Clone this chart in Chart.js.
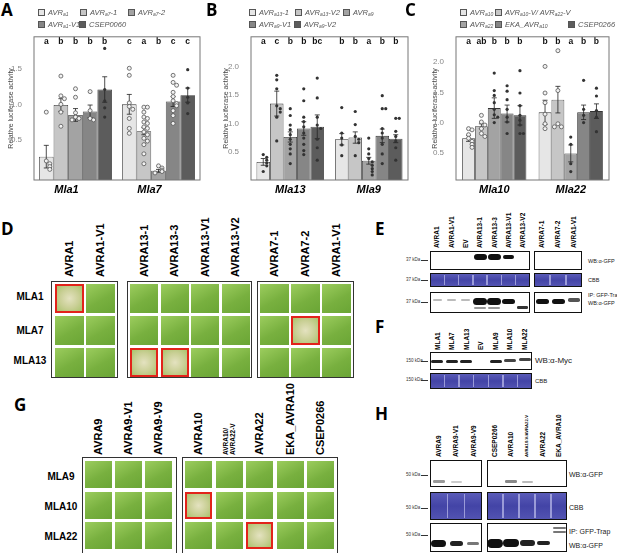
<!DOCTYPE html>
<html>
<head>
<meta charset="utf-8">
<script src="https://cdn.jsdelivr.net/npm/chart.js@4.4.1/dist/chart.umd.min.js"></script>
<style>
body { margin: 0; width: 617px; height: 553px; position: relative; overflow: hidden; background: #fff; font-family: "Liberation Sans", Arial, sans-serif; }
.abs { position: absolute; }
.letter { font-family: "Open Sans", sans-serif; font-weight: 700; font-size: 17px; line-height: 17px; }
.leg { font-style: italic; font-size: 7.5px; color: #555; line-height: 9px; }
.leg span.sq { display: inline-block; width: 5px; height: 5px; border: 0.8px solid #555; margin-right: 3px; vertical-align: -1px; }
.leg sub { font-size: 5px; vertical-align: -1px; }
canvas { position: absolute; }
</style>
</head>
<body>
<canvas id="chartA" width="205" height="172" style="left:0;top:28px"></canvas>
<canvas id="chartB" width="205" height="172" style="left:205px;top:28px"></canvas>
<canvas id="chartC" width="207" height="172" style="left:410px;top:28px"></canvas>
<script>
var yTitle = 'Relative luciferase activity';
var grays = ['#e6e6e6', '#c6c6c6', '#a3a3a3', '#868686', '#5c5c5c'];

// panel A
var groupsA = ['Mla1', 'Mla7'];
var seriesA = [['AVR', 'a1', ''], ['AVR', 'a7', '-1'], ['AVR', 'a7', '-2'], ['AVR', 'a1', '-V1'], ['CSEP0060', '', '']];
var meanA = [[0.26, 1.00], [0.99, 0.62], [0.85, 0.06], [0.90, 1.04], [1.21, 1.13]];
var semA = [[0.16, 0.14], [0.09, 0.05], [0.09, 0.02], [0.09, 0.07], [0.18, 0.10]];
var lettersA = [['a', 'c'], ['b', 'a'], ['b', 'b'], ['b', 'c'], ['b', 'c']];
var pointsA = [
  [[0.89, 0.20, 0.16, 0.12, 0.08], [1.51, 1.41, 1.02, 0.97, 0.93, 0.80, 0.66, 0.59]],
  [[1.40, 1.12, 1.08, 1.00, 0.89, 0.69], [0.96, 0.96, 0.89, 0.82, 0.80, 0.75, 0.73, 0.68, 0.66, 0.61, 0.57, 0.52, 0.48, 0.43, 0.30, 0.16]],
  [[1.22, 1.10, 0.88, 0.82, 0.80, 0.78], [0.13, 0.10, 0.07, 0.05, 0.03]],
  [[1.18, 0.91, 0.80, 0.78], [1.41, 1.31, 1.27, 1.17, 1.11, 1.05, 1.01, 0.98, 0.91, 0.84, 0.73]],
  [[1.79, 1.21, 1.05, 0.95, 0.82], [1.49, 1.23, 1.10, 1.02, 0.87]]
];
var ticksA = [0.5, 1.0, 1.5];

// panel B
var groupsB = ['Mla13', 'Mla9'];
var seriesB = [['AVR', 'a13', '-1'], ['AVR', 'a13', '-V2'], ['AVR', 'a9', ''], ['AVR', 'a9', '-V1'], ['AVR', 'a9', '-V2']];
var meanB = [[0.32, 0.72], [1.35, 0.75], [0.76, 0.34], [0.91, 0.78], [0.94, 0.73]];
var semB = [[0.06, 0.10], [0.22, 0.10], [0.09, 0.06], [0.12, 0.12], [0.21, 0.07]];
var lettersB = [['a', 'b'], ['c', 'b'], ['b', 'a'], ['b', 'b'], ['bc', 'b']];
var pointsB = [
  [[0.45, 0.40, 0.35, 0.30, 0.25, 0.15], [1.28, 0.83, 0.74, 0.62, 0.43]],
  [[1.85, 1.77, 1.61, 1.31, 1.26, 1.20, 1.11, 0.69], [1.21, 0.98, 0.77, 0.72, 0.66, 0.43]],
  [[1.26, 1.14, 0.97, 0.89, 0.80, 0.72, 0.63, 0.55, 0.46, 0.29], [0.74, 0.55, 0.46, 0.38, 0.32, 0.26, 0.20, 0.15, 0.09]],
  [[1.61, 1.40, 1.11, 1.03, 0.94, 0.83, 0.74, 0.63, 0.52, 0.45], [1.49, 1.26, 1.26, 0.91, 0.83, 0.74, 0.63, 0.46, 0.29]],
  [[1.80, 1.45, 1.11, 0.97, 0.91, 0.72, 0.57, 0.35], [1.09, 1.09, 0.86, 0.77, 0.69, 0.57, 0.35]]
];
var ticksB = [0.5, 1.0, 1.5, 2.0];

// panel C
var groupsC = ['Mla10', 'Mla22'];
var seriesC = [['AVR', 'a10', ''], ['AVR', 'a10', '-V/ AVR<sub>a22</sub>-V'], ['AVR', 'a22', ''], ['EKA_AVR', 'a10', ''], ['CSEP0266', '', '']];
var meanC = [[0.74, 1.17], [0.94, 1.38], [1.24, 0.49], [1.15, 1.17], [1.12, 1.19]];
var semC = [[0.05, 0.20], [0.04, 0.22], [0.17, 0.14], [0.14, 0.12], [0.16, 0.12]];
var lettersC = [['a', 'b'], ['ab', 'b'], ['b', 'a'], ['b', 'b'], ['b', 'b']];
var pointsC = [
  [[0.90, 0.88, 0.80, 0.74, 0.69, 0.64, 0.59], [1.93, 1.49, 1.33, 1.14, 0.98, 0.90]],
  [[1.12, 1.01, 0.96, 0.90, 0.82, 0.77], [2.19, 1.53, 0.98, 0.93, 0.93]],
  [[1.82, 1.53, 1.45, 1.33, 1.22, 1.13, 1.09, 1.00], [0.76, 0.64, 0.32, 0.19]],
  [[1.61, 1.52, 1.38, 1.22, 1.09, 1.01, 0.82], [1.70, 1.22, 1.12, 1.00]],
  [[1.86, 1.49, 1.28, 1.12, 1.04, 0.96, 0.82, 0.82], [1.57, 1.44, 1.20, 1.09, 0.85]]
];
var ticksC = [0.5, 1.0, 1.5, 2.0];

Chart.defaults.font.family = '"Liberation Sans", Arial, sans-serif';

// error bars, dots, letters and the frame
var extras = {
  id: 'extras',
  afterDatasetsDraw: function (chart, args, o) {
    var ctx = chart.ctx, y = chart.scales.y, a = chart.chartArea;
    ctx.save();
    chart.data.datasets.forEach(function (ds, i) {
      chart.getDatasetMeta(i).data.forEach(function (bar, j) {
        var m = ds.data[j], s = o.sem[i][j];
        var y1 = y.getPixelForValue(m - s), y2 = y.getPixelForValue(m + s);
        ctx.strokeStyle = '#222';
        ctx.lineWidth = 0.8;
        ctx.beginPath();
        ctx.moveTo(bar.x, y1); ctx.lineTo(bar.x, y2);
        ctx.moveTo(bar.x - 2.5, y1); ctx.lineTo(bar.x + 2.5, y1);
        ctx.moveTo(bar.x - 2.5, y2); ctx.lineTo(bar.x + 2.5, y2);
        ctx.stroke();
        var used = [];
        o.points[i][j].forEach(function (v) {
          var py = y.getPixelForValue(v);
          var n = used.filter(function (u) { return Math.abs(u - py) < 3.5; }).length;
          used.push(py);
          var px = bar.x + (n ? (n % 2 ? 3.5 : -3.5) * Math.ceil(n / 2) : 0);
          ctx.beginPath();
          if (o.open[i]) {
            ctx.arc(px, py, 2, 0, Math.PI * 2);
            ctx.fillStyle = '#f2f2f2';
            ctx.fill();
            ctx.strokeStyle = '#555';
            ctx.stroke();
          } else {
            ctx.arc(px, py, 1.6, 0, Math.PI * 2);
            ctx.fillStyle = '#333';
            ctx.fill();
          }
        });
        ctx.fillStyle = '#111';
        ctx.font = 'bold 8.5px "Liberation Sans", Arial, sans-serif';
        ctx.textAlign = 'center';
        ctx.textBaseline = 'middle';
        ctx.fillText(o.letters[i][j], bar.x, a.top + 4.5);
      });
    });
    ctx.strokeStyle = '#777';
    ctx.lineWidth = 1;
    ctx.strokeRect(a.left, a.top, a.right - a.left, a.bottom - a.top);
    ctx.restore();
  }
};

function makeChart(id, groups, means, sem, letters, points, open, yMin, yMax, yTicks, axisW, padRight, titlePad, catPct, labelOff) {
  return new Chart(document.getElementById(id), {
    type: 'bar',
    data: {
      labels: groups,
      datasets: means.map(function (d, i) {
        return {
          data: d,
          base: yMin,
          backgroundColor: grays[i],
          borderColor: '#333',
          borderWidth: 0.8,
          borderSkipped: 'bottom',
          categoryPercentage: catPct,
          barPercentage: 1.0
        };
      })
    },
    options: {
      responsive: false,
      animation: false,
      layout: { padding: { left: 0, right: padRight, top: 4, bottom: 0 } },
      plugins: {
        legend: { display: false },
        tooltip: { enabled: false },
        extras: { sem: sem, letters: letters, points: points, open: open }
      },
      scales: {
        x: {
          grid: { display: false },
          border: { display: false },
          ticks: { color: '#000', padding: -5, labelOffset: labelOff, font: { size: 11, weight: 'bold', style: 'italic' } },
          afterFit: function (s) { s.height = 20; }
        },
        y: {
          min: yMin,
          max: yMax,
          grid: { display: false },
          border: { display: false },
          afterBuildTicks: function (s) { s.ticks = yTicks.map(function (v) { return { value: v }; }); },
          ticks: { color: '#888', padding: 4, font: { size: 8 }, callback: function (v) { return v.toFixed(1); } },
          title: { display: true, text: yTitle, color: '#444', font: { size: 7 }, padding: { top: titlePad, bottom: 0 } },
          afterFit: function (s) { s.width = axisW; }
        }
      }
    },
    plugins: [extras]
  });
}

makeChart('chartA', groupsA, meanA, semA, lettersA, pointsA, [true, true, true, true, false], -0.07, 1.955, ticksA, 34, 5, 7, 0.88, -9);
makeChart('chartB', groupsB, meanB, semB, lettersB, pointsB, [false, false, false, false, false], 0, 2.53, ticksB, 46, 2, 17, 0.86, 0);
makeChart('chartC', groupsC, meanC, semC, lettersC, pointsC, [true, true, false, false, false], 0.05, 2.42, ticksC, 46, 8, 21, 0.84, 0);

// ---------- page furniture ----------
function el(x, y, w, h, css) {
  var d = document.createElement('div');
  d.className = 'abs';
  d.style.cssText = 'left:' + x + 'px;top:' + y + 'px;width:' + w + 'px;height:' + h + 'px;box-sizing:border-box;' + (css || '');
  document.body.appendChild(d);
  return d;
}
function txt(x, y, s, css, cls) {
  var d = document.createElement('div');
  d.className = 'abs ' + (cls || '');
  d.style.cssText = 'left:' + x + 'px;top:' + y + 'px;white-space:nowrap;' + (css || '');
  d.innerHTML = s;
  document.body.appendChild(d);
  return d;
}
function vtxt(cx, bottom, s, size, lines) {
  var lh = size * 1.15;
  return txt(cx - lh * (lines || 1) / 2, bottom, s, 'font-weight:bold;font-size:' + size + 'px;line-height:' + lh + 'px;transform:rotate(-90deg);transform-origin:0 0;');
}
function legend(items, pos) {
  items.forEach(function (it, i) {
    var t = it[0] + (it[1] ? '<sub>' + it[1] + '</sub>' : '') + it[2];
    txt(pos[i][0], pos[i][1], '<span class="sq" style="background:' + grays[i] + '"></span>' + t, '', 'leg');
  });
}

txt(1, 1, 'A', '', 'letter');
txt(206, 1, 'B', '', 'letter');
txt(405, 1, 'C', '', 'letter');
legend(seriesA, [[38, 8], [80, 8], [128, 8], [38, 20], [79, 20]]);
legend(seriesB, [[249, 8], [295, 8], [343, 8], [249, 20], [294, 20]]);
legend(seriesC, [[460, 8], [495, 8], [460, 20], [495, 20], [568, 20]]);

var leaf = 'background:linear-gradient(150deg,#9ccd5e,#78b03f 55%,#6aa535);';
var redLeaf = 'border:2px solid #e2231a;background:radial-gradient(circle at 50% 50%,#e4e2c0,#c9cf95 55%,#a9c36c);';
function leafGrid(x0, y0, nc, nr, sx, sy, w, h, reds) {
  for (var r = 0; r < nr; r++) {
    for (var c = 0; c < nc; c++) {
      el(x0 + c * sx, y0 + r * sy, w, h, reds.indexOf(r + ',' + c) >= 0 ? redLeaf : leaf);
    }
  }
}
function frame(x, y, w, h) { el(x, y, w, h, 'border:1.3px solid #333;'); }

// D
txt(1, 220, 'D', '', 'letter');
frame(51, 281, 67, 97); frame(127, 281, 125, 97); frame(257, 281, 97, 97);
leafGrid(55, 284, 2, 3, 31, 32, 29, 29, ['0,0']);
leafGrid(130, 284, 4, 3, 30.5, 32, 28, 29, ['2,0', '2,1']);
leafGrid(260, 284, 3, 3, 31, 32, 29, 29, ['1,1']);
var dCols = ['AVRA1', 'AVRA1-V1', 'AVRA13-1', 'AVRA13-3', 'AVRA13-V1', 'AVRA13-V2', 'AVRA7-1', 'AVRA7-2', 'AVRA1-V1'];
var dX = [69.5, 100.5, 144, 174.5, 205, 235.5, 274.5, 305.5, 336.5];
dCols.forEach(function (s, i) { vtxt(dX[i], 277, s, 11); });
[['MLA1', 297], ['MLA7', 331], ['MLA13', 361]].forEach(function (r) {
  txt(0, r[1] - 6, r[0], 'width:60px;text-align:center;font-weight:bold;font-size:10px;line-height:12px;');
});

// G
txt(14, 396, 'G', '', 'letter');
frame(82, 457, 95, 97); frame(182, 457, 156, 97);
leafGrid(85, 461, 3, 3, 30, 30.5, 27, 27, []);
leafGrid(185, 461, 5, 3, 30.5, 30.5, 27, 27, ['1,0', '2,2']);
var gCols = ['AVRA9', 'AVRA9-V1', 'AVRA9-V9', 'AVRA10', '', 'AVRA22', 'EKA_AVRA10', 'CSEP0266'];
var gX = [98.5, 128.5, 158.5, 198.5, 229, 259.5, 290, 320.5];
gCols.forEach(function (s, i) { if (s) vtxt(gX[i], 455, s, 11); });
vtxt(gX[4], 455, 'AVRA10/<br>AVRA22-V', 6.5, 2);
[['MLA9', 477], ['MLA10', 507], ['MLA22', 537]].forEach(function (r) {
  txt(31, r[1] - 6, r[0], 'width:60px;text-align:center;font-weight:bold;font-size:10px;line-height:12px;');
});

// blots
function blot(x, y, w, h) { el(x, y, w, h, 'border:1.2px solid #111;background:#fff;'); }
function cbb(x, y, w, h, lanes) {
  el(x, y, w, h, 'border:1.2px solid #111;background:linear-gradient(180deg,#5a5bb8,#4344a6 50%,#5253b2);');
  for (var k = 1; k < lanes; k++) el(x + k * w / lanes - 0.7, y + 2, 1.4, h - 4, 'background:rgba(190,190,235,0.7);');
}
function band(cx, y, w, h, col) { el(cx - w / 2, y, w, h, 'background:' + col + ';border-radius:' + (h / 2) + 'px;'); }
function kda(y, s) {
  txt(406, y - 3, s, 'font-size:4.5px;line-height:6px;color:#333;');
  el(421, y, 7, 0.8, 'background:#333;');
}
function side(x, y, s, size) { txt(x, y, s, 'font-size:' + (size || 6.5) + 'px;line-height:8px;color:#222;'); }

// E
txt(375, 220, 'E', '', 'letter');
var eCols = ['AVRA1', 'AVRA1-V1', 'EV', 'AVRA13-1', 'AVRA13-3', 'AVRA13-V1', 'AVRA13-V2', 'AVRA7-1', 'AVRA7-2', 'AVRA1-V1'];
var eX = [437.1, 451.4, 465.7, 480, 494.3, 508.6, 522.9, 542, 558, 574];
eCols.forEach(function (s, i) { vtxt(eX[i], 248, s, 6.5); });
blot(430, 251, 100, 19); blot(534, 251, 48, 19);
band(eX[3], 254, 13, 6, '#111'); band(eX[4], 254, 13, 6, '#111'); band(eX[5], 255, 11, 4, '#111');
cbb(430, 273, 100, 14, 7); cbb(534, 273, 48, 14, 3);
blot(430, 292, 100, 21); blot(534, 292, 48, 21);
[0, 1, 2].forEach(function (k) { band(eX[k], 299, 9, 2, '#bbb'); });
band(eX[3], 298, 14, 7, '#111'); band(eX[4], 298, 14, 7, '#111'); band(eX[5], 299, 13, 5, '#111');
band(eX[3], 307, 12, 2, '#999'); band(eX[4], 307, 12, 2, '#999');
band(eX[6], 306, 11, 2.5, '#333');
band(eX[7], 299, 13, 5, '#111'); band(eX[8], 299, 13, 5, '#111'); band(eX[9], 298, 12, 3.5, '#555');
kda(260, '37 kDa'); kda(280, '37 kDa'); kda(302, '37 kDa');
side(588, 257, 'WB:α-GFP', 5.5); side(588, 276, 'CBB', 5.5); side(588, 291, 'IP: GFP-Trap', 5.5); side(588, 299, 'WB:α-GFP', 5.5);

// F
txt(375, 318, 'F', '', 'letter');
var fCols = ['MLA1', 'MLA7', 'MLA13', 'EV', 'MLA9', 'MLA10', 'MLA22'];
var fX = [437.3, 451.9, 466.4, 481, 495.6, 510.1, 524.7];
fCols.forEach(function (s, i) { vtxt(fX[i], 350, s, 6.5); });
blot(430, 352, 102, 18);
[0, 1, 2, 4].forEach(function (k) { band(fX[k], 360, 12, 3, '#222'); });
band(fX[5], 359, 12, 3, '#444'); band(fX[6], 358, 12, 3, '#444');
cbb(430, 373, 102, 16, 7);
kda(361, '150 kDa'); kda(380, '150 kDa');
side(535, 357, 'WB:α-Myc', 8); side(535, 377, 'CBB', 6);

// H
txt(375, 405, 'H', '', 'letter');
var hCols = ['AVRA9', 'AVRA9-V1', 'AVRA9-V9', 'CSEP0266', 'AVRA10', '', 'AVRA22', 'EKA_AVRA10'];
var hX = [438.7, 456, 473.3, 495, 511, 527, 543, 559];
hCols.forEach(function (s, i) { if (s) vtxt(hX[i], 457, s, 6.5); });
vtxt(hX[5], 457, 'AVRA10-V/AVRA22-V', 4.2);
blot(430, 460, 52, 27); blot(487, 460, 80, 27);
band(hX[0], 480, 12, 2.5, '#999'); band(hX[1], 481, 11, 2, '#ccc');
band(hX[4], 480, 12, 2.5, '#888'); band(hX[5], 481, 11, 2, '#bbb');
cbb(430, 492, 52, 28, 3); cbb(487, 492, 80, 28, 5);
blot(430, 523, 52, 29); blot(487, 523, 80, 29);
band(hX[0], 540, 15, 7, '#111'); band(hX[1], 541, 13, 5, '#222'); band(hX[2], 542, 12, 3, '#777');
band(hX[3], 539, 16, 9, '#111'); band(hX[4], 539, 16, 8, '#111'); band(hX[5], 540, 15, 6, '#222'); band(hX[6], 541, 13, 4, '#222');
band(hX[7], 527, 13, 2, '#777'); band(hX[7], 531, 13, 2, '#777');
kda(475, '50 kDa'); kda(508, '50 kDa'); kda(535, '50 kDa');
side(569, 471, 'WB:α-GFP', 7); side(569, 504, 'CBB', 7); side(569, 528, 'IP: GFP-Trap', 7); side(569, 542, 'WB:α-GFP', 7);
</script>
</body>
</html>
